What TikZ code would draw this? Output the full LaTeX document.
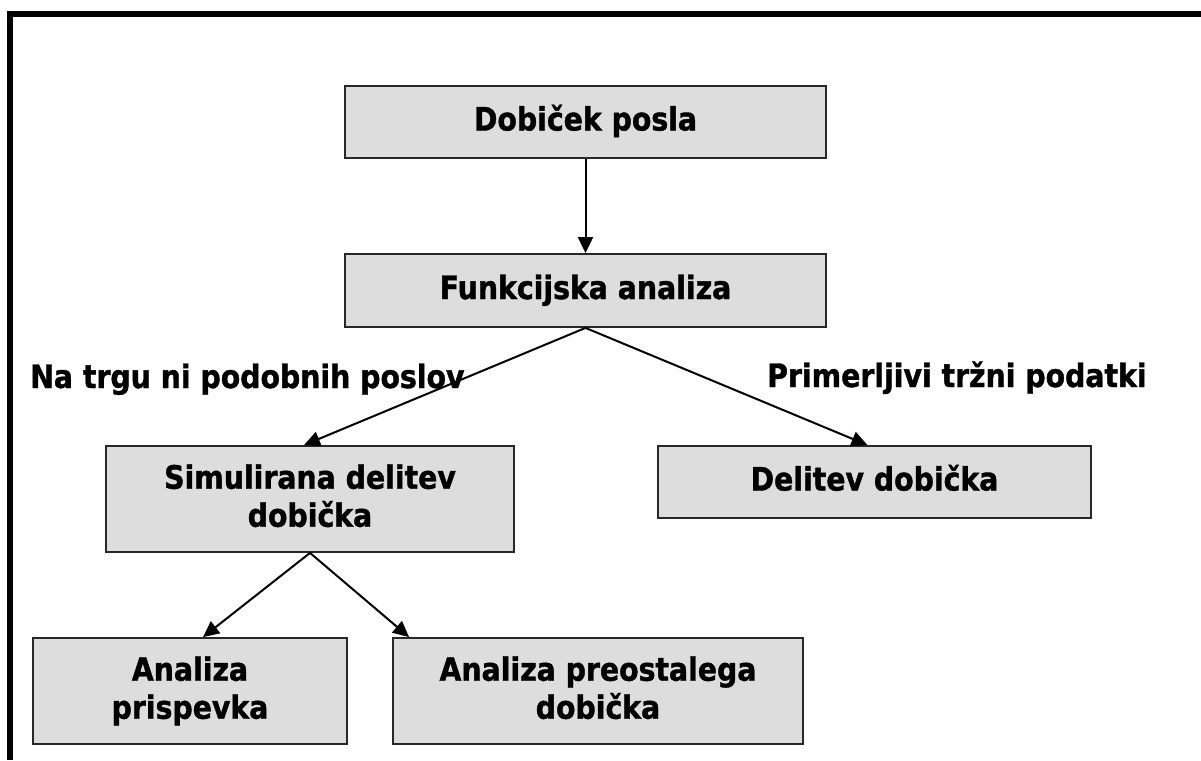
\documentclass[tikz,border=0pt]{standalone}
\usepackage{fontspec}
\setmainfont[FakeStretch=0.88,BoldFeatures={FakeBold=1.2}]{DejaVu Sans}
\usetikzlibrary{arrows.meta}
\definecolor{boxfill}{RGB}{221,221,221}
\definecolor{boxline}{RGB}{40,40,40}
\newcommand{\topstrut}{\rule{0pt}{24pt}}
\newcommand{\botstrut}{\rule[-7pt]{0pt}{7pt}}
\begin{document}
\begin{tikzpicture}[x=1pt,y=-1pt,
  box/.style={draw=boxline, line width=1.8pt, fill=boxfill, rectangle, inner sep=0pt,
              align=center, font=\fontsize{32.2}{38}\selectfont\bfseries},
  oneline/.style={text height=24pt, text depth=7pt},
  conn/.style={line width=2pt, -{Triangle[length=16pt,width=15pt]}},
  lab/.style={inner sep=0pt, anchor=base west, font=\fontsize{32.2}{38}\selectfont\bfseries},
  frame/.style={line width=6pt, line join=miter}]
\useasboundingbox (0,0) rectangle (1201,760);

% frame
\coordinate (fr1) at (1201,14);
\coordinate (fr2) at (10,14);
\coordinate (fr3) at (10,760);
\draw[frame] (fr1) -- (fr2) -- (fr3);

% boxes
\node[box,oneline,minimum width=481pt,minimum height=72pt] (top) at (585.5,122) {Dobiček posla};
\node[box,oneline,minimum width=481pt,minimum height=73pt] (func) at (585.5,290.5) {Funkcijska analiza};
\node[box,minimum width=408pt,minimum height=106pt] (sim) at (310,499)
  {\topstrut Simulirana delitev\\dobička\botstrut};
\node[box,oneline,minimum width=433pt,minimum height=72pt] (del) at (874.5,482) {Delitev dobička};
\node[box,minimum width=314pt,minimum height=106pt] (ap) at (190,691)
  {\topstrut Analiza\\prispevka\botstrut};
\node[box,minimum width=410pt,minimum height=106pt] (apd) at (598,691)
  {\topstrut Analiza preostalega\\dobička\botstrut};

% labels
\node[lab] (lleft) at (30,388) {Na trgu ni podobnih poslov};
\node[lab] (lright) at (767,387) {Primerljivi tržni podatki};

% connectors
\draw[conn] (top.south) -- (func.north);
\draw[conn] (func.south) -- ([xshift=-6pt]sim.north);
\draw[conn] (func.south) -- ([xshift=-7pt]del.north);
\draw[conn] (sim.south) -- ([xshift=13pt]ap.north);
\draw[conn] (sim.south) -- ([xshift=17pt]apd.north west);
\end{tikzpicture}
\end{document}
